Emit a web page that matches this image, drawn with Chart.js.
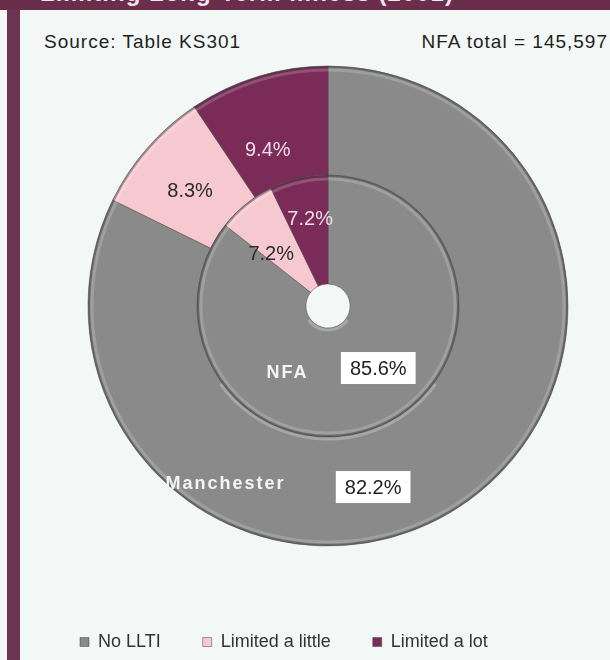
<!DOCTYPE html>
<html>
<head>
<meta charset="utf-8">
<script src="https://cdn.jsdelivr.net/npm/chart.js@4.4.1/dist/chart.umd.min.js"></script>
<style>
  html, body { margin: 0; padding: 0; }
  body {
    width: 610px; height: 660px; overflow: hidden; position: relative;
    background: #f3f8f7; font-family: Arial, "Liberation Sans", sans-serif;
  }
  #topbar {
    position: absolute; left: 0; top: 0; width: 610px; height: 10px;
    background: #6b2d4c; overflow: hidden;
  }
  #topbar span {
    position: absolute; left: 40px; top: -19px; white-space: nowrap;
    color: #f3e6ee; font: bold 24px/24px Arial, "Liberation Sans", sans-serif;
    letter-spacing: 1px;
  }
  #leftbar {
    position: absolute; left: 7px; top: 10px; width: 13px; height: 650px;
    background: #6b3450;
  }
  .note {
    position: absolute; top: 31px; font-size: 19px; letter-spacing: 1px;
    color: #1f1f1f; white-space: nowrap;
  }
  #source { left: 44px; }
  #total { right: 2px; }
  #chart { position: absolute; left: 0; top: 0; }
</style>
</head>
<body>
<div id="topbar"><span>Limiting Long-Term Illness (2001)</span></div>
<div id="leftbar"></div>
<div class="note" id="source">Source: Table KS301</div>
<div class="note" id="total">NFA total = 145,597</div>
<canvas id="chart" width="620" height="665" style="width:620px;height:665px"></canvas>

<script>
// DATA  -------------------------------------------------------------------------------

const categories = ['No LLTI', 'Limited a little', 'Limited a lot'];
const ringNames = ['Manchester', 'NFA'];
const manchesterPct = [82.2, 8.3, 9.4];
const nfaPct = [85.6, 7.2, 7.2];

const sliceColors = ['#8a8a8a', '#f6c8cf', '#7b2b57'];

// where each value label sits: [degrees clockwise from top, fraction across the ring]
const labelSpots = [
    [[166, 0.51], [310, 0.45], [339, 0.34]],
    [[141, 0.53], [313, 0.51], [348.5, 0.62]]
];
const nameSpots = [[210, 0.68], [211, 0.52]];

// PLUGIN: bevel lines round the rings  ------------------------------------------------

const ringBevel = {
    id: 'ringBevel',
    afterDatasetsDraw(chart) {
        const ctx = chart.ctx;
        const metas = chart.data.datasets.map((ds, d) => chart.getDatasetMeta(d).data[0]);
        ctx.save();
        metas.forEach(arc => {
            const p = arc.getProps(['x', 'y', 'innerRadius', 'outerRadius'], true);
            // dark groove at the outer edge, soft light just inside it
            ctx.lineWidth = 2;
            ctx.strokeStyle = 'rgba(60,60,60,0.45)';
            ctx.beginPath();
            ctx.arc(p.x, p.y, p.outerRadius - 1, 0, Math.PI * 2);
            ctx.stroke();
            ctx.lineWidth = 3;
            ctx.strokeStyle = 'rgba(255,255,255,0.18)';
            ctx.beginPath();
            ctx.arc(p.x, p.y, p.outerRadius - 4, 0, Math.PI * 2);
            ctx.stroke();
            // light rim under the inner edge
            ctx.lineWidth = 3;
            ctx.strokeStyle = 'rgba(255,255,255,0.25)';
            ctx.beginPath();
            ctx.arc(p.x, p.y, p.innerRadius + 2, 0.2 * Math.PI, 0.8 * Math.PI);
            ctx.stroke();
        });
        ctx.restore();
    }
};

// PLUGIN: value and ring labels  -------------------------------------------------------

const ringLabels = {
    id: 'ringLabels',
    afterDatasetsDraw(chart) {
        const ctx = chart.ctx;
        ctx.save();
        chart.data.datasets.forEach((ds, d) => {
            const arcs = chart.getDatasetMeta(d).data;
            arcs.forEach((arc, i) => {
                const p = arc.getProps(['x', 'y', 'innerRadius', 'outerRadius'], true);
                const spot = labelSpots[d][i];
                const a = spot[0] * Math.PI / 180;
                const r = p.innerRadius + spot[1] * (p.outerRadius - p.innerRadius);
                const x = p.x + r * Math.sin(a);
                const y = p.y - r * Math.cos(a);
                const text = ds.data[i].toFixed(1) + '%';

                ctx.font = '20px Arial, "Liberation Sans", sans-serif';
                ctx.textAlign = 'center';
                ctx.textBaseline = 'middle';
                if (i === 0) {
                    const w = ctx.measureText(text).width + 18;
                    ctx.fillStyle = '#ffffff';
                    ctx.fillRect(x - w / 2, y - 16, w, 32);
                    ctx.fillStyle = '#222222';
                } else if (i === 1) {
                    ctx.fillStyle = '#2b2b2b';
                } else {
                    ctx.fillStyle = '#f2dce7';
                }
                ctx.fillText(text, x, y + 1);
            });

            // ring name
            const first = arcs[0].getProps(['x', 'y', 'innerRadius', 'outerRadius'], true);
            const spot = nameSpots[d];
            const a = spot[0] * Math.PI / 180;
            const r = first.innerRadius + spot[1] * (first.outerRadius - first.innerRadius);
            ctx.font = 'bold 18px Arial, "Liberation Sans", sans-serif';
            ctx.letterSpacing = '2px';
            ctx.fillStyle = '#f4f4f4';
            ctx.textAlign = 'center';
            ctx.textBaseline = 'middle';
            ctx.fillText(ds.label, first.x + r * Math.sin(a), first.y - r * Math.cos(a));
            ctx.letterSpacing = '0px';
        });
        ctx.restore();
    }
};

// CHART  ------------------------------------------------------------------------------

new Chart(document.getElementById('chart'), {
    type: 'doughnut',
    data: {
        labels: categories,
        datasets: [
            {
                label: ringNames[0],
                data: manchesterPct,
                backgroundColor: sliceColors,
                borderColor: 'rgba(70,70,70,0.5)',
                borderWidth: 1
            },
            {
                label: ringNames[1],
                data: nfaPct,
                backgroundColor: sliceColors,
                borderColor: 'rgba(70,70,70,0.5)',
                borderWidth: 1
            }
        ]
    },
    options: {
        responsive: false,
        animation: false,
        radius: 240,
        cutout: '9.2%',
        layout: {
            padding: { top: 21, left: 38, right: 2, bottom: 4 }
        },
        plugins: {
            tooltip: { enabled: false },
            legend: {
                position: 'bottom',
                align: 'start',
                labels: {
                    boxWidth: 9,
                    boxHeight: 9,
                    padding: 42,
                    color: '#333333',
                    font: { family: 'Arial, "Liberation Sans", sans-serif', size: 18 }
                }
            }
        }
    },
    plugins: [ringBevel, ringLabels]
});
</script>
</body>
</html>
